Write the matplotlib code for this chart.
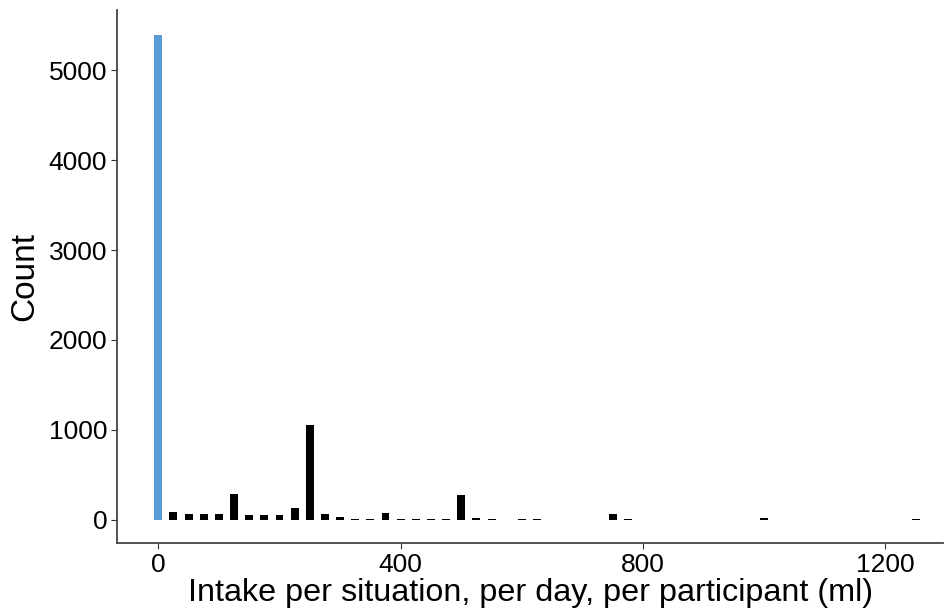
import matplotlib
matplotlib.use('Agg')
import matplotlib.pyplot as plt

plt.rcParams['font.family'] = ['Liberation Sans', 'DejaVu Sans']

# intake bins (ml) and counts
intake = [0, 25, 50, 75, 100, 125, 150, 175, 200, 225, 250, 275, 300, 325, 350,
          375, 400, 425, 450, 475, 500, 525, 550, 575, 600, 625, 725, 750, 775,
          800, 825, 950, 975, 1000, 1025, 1200, 1250]
counts = [5390, 90, 65, 65, 65, 290, 50, 50, 50, 130, 1060, 65, 30, 10, 10,
          80, 10, 6, 10, 15, 280, 20, 10, 5, 6, 10, 5, 70, 10,
          5, 5, 5, 5, 20, 5, 5, 10]

colors = ['#5b9bd5' if v == 0 else 'black' for v in intake]

fig, ax = plt.subplots(figsize=(9.44, 6.10), dpi=100)
ax.bar(intake, counts, width=13, color=colors)

ax.set_xlim(-68, 1295)
ax.set_ylim(-255, 5670)
ax.set_xticks([0, 400, 800, 1200])
ax.set_yticks([0, 1000, 2000, 3000, 4000, 5000])
ax.tick_params(labelsize=19, colors='#333333', labelcolor='black', length=4, pad=3)
ax.set_xlabel('Intake per situation, per day, per participant (ml)', fontsize=23.3, labelpad=1)
ax.set_ylabel('Count', fontsize=24, labelpad=6)

for s in ['top', 'right']:
    ax.spines[s].set_visible(False)
for s in ['left', 'bottom']:
    ax.spines[s].set_color('#444444')
    ax.spines[s].set_linewidth(1.3)

plt.subplots_adjust(left=0.124, right=0.999, top=0.984, bottom=0.11)
plt.savefig('out.png')
